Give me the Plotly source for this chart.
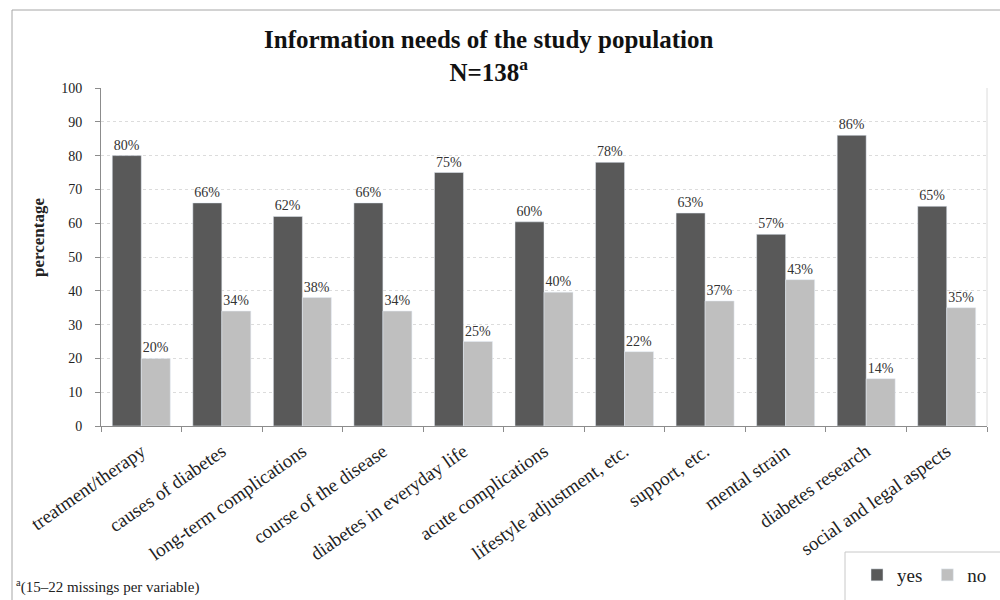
import plotly.graph_objects as go

categories = ["treatment/therapy", "causes of diabetes", "long-term complications",
              "course of the disease", "diabetes in everyday life", "acute complications",
              "lifestyle adjustment, etc.", "support, etc.", "mental strain",
              "diabetes research", "social and legal aspects"]
yes_vals = [80, 66, 62, 66, 75, 60.4, 78, 63, 56.7, 86, 65]
no_vals = [20, 34, 38, 34, 25, 39.6, 22, 37, 43.3, 14, 35]

FONT = "Liberation Serif"
W, H = 1000, 600
L, R, T, B = 101, 13, 88, 174
pw, ph = W - L - R, H - T - B

def px(x):
    return (x - L) / pw

def py(y):
    return (H - B - y) / ph

fig = go.Figure()
fig.add_trace(go.Bar(name="yes", x=categories, y=yes_vals, marker_color="#595959",
                     text=[f"{round(v)}%" for v in yes_vals], textposition="outside",
                     textfont=dict(family=FONT, size=14, color="#333333"), cliponaxis=False))
fig.add_trace(go.Bar(name="no", x=categories, y=no_vals, marker_color="#bfbfbf",
                     text=[f"{round(v)}%" for v in no_vals], textposition="outside",
                     textfont=dict(family=FONT, size=14, color="#333333"), cliponaxis=False))

fig.update_layout(
    width=W, height=H, margin=dict(l=L, r=R, t=T, b=B, autoexpand=False),
    paper_bgcolor="white", plot_bgcolor="white",
    font=dict(family=FONT, color="#222222"),
    barmode="group", bargap=0.28, bargroupgap=0,
    showlegend=True,
    legend=dict(orientation="h", xref="container", yref="container",
                x=857 / W, y=1 - 556 / H, xanchor="left", yanchor="top",
                font=dict(family=FONT, size=19, color="#222222"),
                bgcolor="rgba(0,0,0,0)", itemwidth=30, traceorder="normal"),
    xaxis=dict(tickangle=-35, tickfont=dict(family=FONT, size=19, color="#222222"),
               showline=True, linecolor="#8c8c8c", ticks="outside", ticklen=5,
               tickcolor="#8c8c8c", tickson="boundaries", showgrid=False, automargin=False,
               ticklabelstandoff=6),
    yaxis=dict(range=[0, 100], dtick=10, tickfont=dict(family=FONT, size=14, color="#222222"),
               showline=True, linecolor="#8c8c8c", ticks="outside", ticklen=5,
               tickcolor="#8c8c8c", gridcolor="#dcdcdc", griddash="dot", automargin=False,
               ticklabelstandoff=10, zeroline=False),
)

# outer chart border
fig.add_shape(type="rect", xref="paper", yref="paper", x0=px(12), x1=px(1010),
              y0=py(610), y1=py(10), line=dict(color="#a6a6a6", width=1), layer="below")
# right plot border
fig.add_shape(type="line", xref="paper", yref="paper", x0=1, x1=1, y0=0, y1=1,
              line=dict(color="#dcdcdc", width=1))
# legend box
fig.add_shape(type="rect", xref="paper", yref="paper", x0=px(845), x1=px(1010),
              y0=py(610), y1=py(552), line=dict(color="#c8c8c8", width=1))

fig.add_annotation(text="<b>Information needs of the study population</b><br><b>N=138<sup>a</sup></b>",
                   xref="paper", yref="paper", x=px(488), y=py(24), xanchor="center", yanchor="top",
                   showarrow=False, font=dict(family=FONT, size=25, color="#111111"))
fig.add_annotation(text="<b>percentage</b>", xref="paper", yref="paper", x=px(38), y=py(238),
                   xanchor="center", yanchor="middle", textangle=-90, showarrow=False,
                   font=dict(family=FONT, size=17, color="#222222"))
fig.add_annotation(text="<sup>a</sup>(15–22 missings per variable)", xref="paper", yref="paper",
                   x=px(14), y=py(598), xanchor="left", yanchor="bottom", showarrow=False,
                   font=dict(family=FONT, size=15, color="#222222"))

fig.write_html("out.html")
